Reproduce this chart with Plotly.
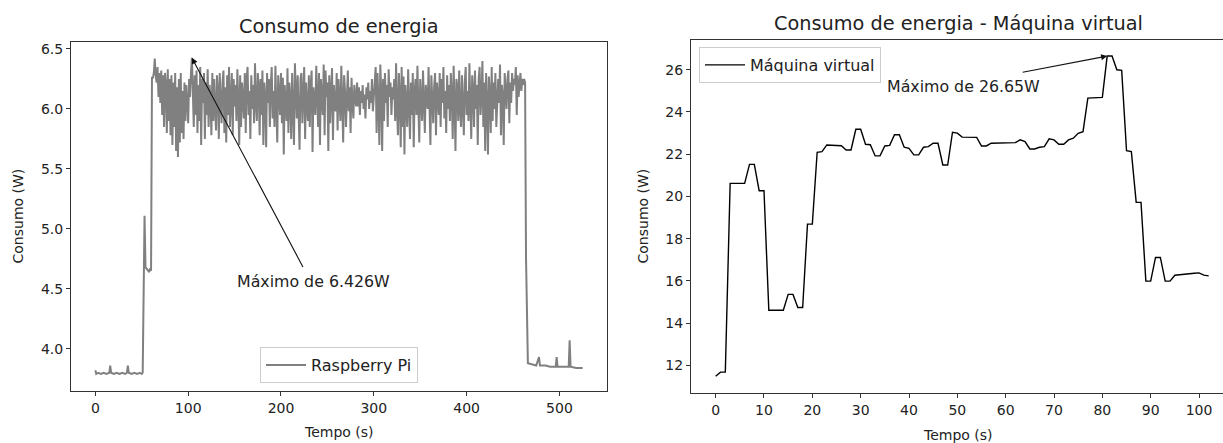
import plotly.graph_objects as go

# ---------------- Data: Raspberry Pi ----------------
rpi_start_t = [0, 1, 3, 6, 9, 12, 15, 16, 17, 20, 23, 26, 29, 32, 34, 35, 36, 39, 42, 45, 48, 50, 51,
               52, 53, 54, 56, 58, 59, 60, 61]
rpi_start_w = [3.82, 3.79, 3.80, 3.79, 3.80, 3.79, 3.80, 3.86, 3.80, 3.79, 3.80, 3.79, 3.80, 3.79, 3.80,
               3.86, 3.80, 3.79, 3.80, 3.79, 3.80, 3.79, 3.80, 4.70, 5.11, 4.68, 4.66, 4.64, 4.67, 4.65, 6.26]

# one reading per second, from t = 62 s to t = 462 s
rpi_load_w = [
    6.26, 6.30, 6.42, 6.28, 6.22, 6.35, 6.10, 6.30, 6.05, 6.32,
    5.95, 6.28, 5.85, 6.30, 6.20, 5.80, 6.33, 5.90, 6.25, 5.78,
    6.28, 5.70, 6.22, 5.85, 6.30, 5.65, 6.18, 5.60, 6.25, 5.72,
    6.30, 5.80, 6.15, 5.75, 6.22, 5.90, 6.20, 6.05, 5.88, 6.25,
    6.10, 6.30, 6.426, 6.15, 5.85, 6.28, 5.95, 6.32, 5.80, 6.20,
    5.90, 6.35, 5.70, 6.25, 6.05, 6.30, 5.75, 6.22, 5.95, 6.33,
    5.85, 6.20, 6.10, 5.78, 6.30, 5.90, 6.25, 6.00, 5.82, 6.28,
    6.15, 5.75, 6.30, 6.05, 5.88, 6.22, 6.32, 5.80, 6.18, 5.72,
    6.28, 5.95, 6.35, 5.85, 6.10, 6.30, 5.78, 6.25, 6.02, 6.20,
    5.90, 6.33, 6.05, 5.70, 6.28, 5.85, 6.22, 6.10, 5.92, 6.30,
    5.80, 6.25, 6.35, 5.95, 6.15, 5.75, 6.28, 6.00, 6.20, 5.88,
    6.38, 6.05, 5.90, 6.30, 6.18, 5.78, 6.25, 5.95, 6.32, 5.70,
    6.22, 6.10, 5.68, 6.30, 6.05, 6.25, 5.85, 6.20, 6.35, 5.92,
    6.15, 5.85, 6.36, 6.00, 5.72, 6.28, 6.12, 5.95, 6.30, 5.88,
    6.26, 5.62, 6.20, 6.05, 5.90, 6.34, 5.80, 6.22, 6.10, 5.75,
    6.30, 6.00, 5.70, 6.38, 6.15, 5.92, 6.28, 6.05, 5.66, 6.25,
    6.30, 5.88, 6.12, 6.35, 5.75, 6.22, 6.02, 5.90, 6.28, 5.85,
    6.20, 6.32, 5.64, 6.18, 6.05, 5.95, 6.36, 6.10, 5.85, 6.30,
    5.70, 6.25, 6.00, 5.95, 6.37, 5.78, 6.32, 6.10, 6.22, 5.65,
    6.28, 5.88, 6.15, 6.34, 5.74, 6.20, 6.02, 5.98, 6.30, 5.82,
    6.25, 6.10, 5.90, 6.36, 6.05, 5.72, 6.28, 6.15, 5.85, 6.22,
    6.32, 5.98, 6.18, 5.80, 6.26, 6.05, 5.92, 6.20, 6.12, 6.02,
    6.22, 6.02, 6.18, 5.95, 6.15, 6.05, 6.20, 6.00, 6.12, 5.92,
    6.18, 6.08, 6.22, 6.00, 6.15, 6.05, 6.25, 5.98, 6.10, 6.20,
    6.35, 5.80, 6.30, 6.05, 5.70, 6.37, 6.15, 5.65, 6.25, 5.90,
    6.30, 6.05, 6.20, 5.85, 6.33, 6.10, 6.22, 5.95, 6.18, 6.08,
    6.25, 5.90, 6.38, 6.00, 5.78, 6.30, 6.12, 5.68, 6.35, 5.85,
    6.27, 5.62, 6.20, 6.05, 5.85, 6.33, 6.10, 5.75, 6.22, 5.95,
    6.30, 5.68, 6.15, 6.25, 5.95, 6.36, 6.02, 5.72, 6.25, 6.10,
    5.90, 6.32, 6.05, 5.80, 6.20, 6.12, 6.00, 6.35, 5.88, 5.70,
    6.28, 6.05, 5.88, 6.18, 6.30, 5.78, 6.22, 6.10, 5.95, 6.30,
    5.85, 6.25, 6.05, 6.35, 5.92, 6.15, 5.80, 6.28, 6.00, 6.20,
    5.90, 6.30, 6.12, 5.75, 6.36, 6.05, 5.65, 6.25, 6.18, 5.90,
    6.32, 6.00, 5.85, 6.28, 6.10, 5.78, 6.22, 6.35, 5.95, 6.15,
    5.90, 6.38, 6.05, 5.75, 6.28, 6.15, 5.85, 6.32, 6.00, 6.20,
    5.70, 6.25, 6.35, 5.95, 6.10, 6.40, 5.85, 6.22, 5.65, 6.30,
    6.05, 5.62, 6.27, 6.12, 5.80, 6.35, 5.90, 6.22, 6.00, 6.30,
    5.85, 6.18, 6.25, 6.05, 6.37, 5.78, 6.20, 6.10, 5.70, 6.30,
    6.15, 6.00, 6.25, 6.32, 5.88, 6.22, 6.05, 6.30, 6.15, 6.25,
    6.20, 6.35, 5.95, 6.28, 6.10, 6.22, 6.30, 6.15, 6.25, 6.20,
    6.25,
]
rpi_load_t = list(range(62, 62 + len(rpi_load_w)))

rpi_end_t = [463, 464, 466, 470, 475, 478, 479, 485, 490, 496, 497, 498, 505, 510, 511, 512, 518, 522, 525]
rpi_end_w = [6.22, 4.76, 3.88, 3.87, 3.86, 3.93, 3.86, 3.86, 3.85, 3.85, 3.93, 3.85, 3.85, 3.85, 4.07, 3.85,
             3.84, 3.84, 3.84]

rpi_t = rpi_start_t + rpi_load_t + rpi_end_t
rpi_w = rpi_start_w + rpi_load_w + rpi_end_w

# ---------------- Data: Máquina virtual ----------------
vm_w = [11.48, 11.68, 11.68, 20.62, 20.62, 20.62, 20.62, 21.52, 21.52, 20.27,
        20.27, 14.61, 14.61, 14.61, 14.61, 15.36, 15.36, 14.74, 14.74, 18.69,
        18.69, 22.09, 22.12, 22.44, 22.43, 22.42, 22.40, 22.20, 22.20, 23.18,
        23.18, 22.47, 22.45, 21.92, 21.92, 22.39, 22.42, 22.92, 22.92, 22.33,
        22.28, 21.97, 21.97, 22.33, 22.36, 22.52, 22.52, 21.49, 21.49, 23.04,
        23.00, 22.81, 22.80, 22.80, 22.80, 22.39, 22.39, 22.52, 22.53, 22.54,
        22.55, 22.55, 22.55, 22.68, 22.60, 22.25, 22.25, 22.33, 22.36, 22.73,
        22.68, 22.47, 22.47, 22.68, 22.76, 22.99, 23.07, 24.66, 24.67, 24.68,
        24.69, 26.65, 26.65, 26.00, 25.97, 22.17, 22.12, 19.72, 19.72, 15.99,
        15.99, 17.11, 17.11, 15.99, 15.99, 16.27, 16.30, 16.32, 16.34, 16.36,
        16.38, 16.27, 16.24]
vm_t = list(range(len(vm_w)))

left_xticks = [0, 100, 200, 300, 400, 500]
left_yticks = [4.0, 4.5, 5.0, 5.5, 6.0, 6.5]
right_xticks = [0, 10, 20, 30, 40, 50, 60, 70, 80, 90, 100]
right_yticks = [12, 14, 16, 18, 20, 22, 24, 26]

rpi_max_t, rpi_max_w = 104, 6.426
vm_max_t, vm_max_w = 81, 26.65

W, H = 1223, 443
FONT = "DejaVu Sans"
TXT = "#222222"

fig = go.Figure()
fig.add_trace(go.Scatter(x=rpi_t, y=rpi_w, mode="lines", name="Raspberry Pi",
                         line=dict(color="#808080", width=2), xaxis="x", yaxis="y",
                         legend="legend"))
fig.add_trace(go.Scatter(x=vm_t, y=vm_w, mode="lines", name="Máquina virtual",
                         line=dict(color="#000000", width=1.4), xaxis="x2", yaxis="y2",
                         legend="legend2"))


def px(v):
    return v / W


def py(v):
    return 1 - v / H


axis_common = dict(showgrid=False, zeroline=False, showline=True, linecolor="#333333", linewidth=1,
                   ticks="outside", ticklen=4, tickcolor="#333333", tickwidth=1,
                   tickfont=dict(family=FONT, size=14, color=TXT))

legend_common = dict(bgcolor="rgba(255,255,255,0.8)", bordercolor="#cccccc", borderwidth=1,
                     font=dict(family=FONT, size=16, color=TXT), itemwidth=40)

fig.update_layout(
    width=W, height=H,
    margin=dict(l=0, r=0, t=0, b=0),
    paper_bgcolor="white", plot_bgcolor="white",
    font=dict(family=FONT, color=TXT),
    xaxis=dict(domain=[px(71), px(607)], range=[-26.25, 551.25], tickvals=left_xticks,
               mirror=True, anchor="y", **axis_common),
    yaxis=dict(domain=[1 - 391 / H, 1 - 42 / H], range=[3.648, 6.558], tickvals=left_yticks,
               tickformat=".1f", mirror=True, anchor="x", **axis_common),
    xaxis2=dict(domain=[px(691), 1.0], range=[-5.1, 104.96], tickvals=right_xticks,
                mirror=True, anchor="y2", **axis_common),
    yaxis2=dict(domain=[1 - 393 / H, 1 - 40 / H], range=[10.69, 27.41], tickvals=right_yticks,
                mirror=False, anchor="x2", **axis_common),
    legend=dict(x=px(339), y=py(383), xanchor="center", yanchor="bottom", **legend_common),
    legend2=dict(x=px(699), y=py(47), xanchor="left", yanchor="top", **legend_common),
    showlegend=True,
)

ann = []
# titles
ann.append(dict(text="Consumo de energia", x=px(339), y=py(27), xref="paper", yref="paper",
                showarrow=False, xanchor="center", yanchor="middle",
                font=dict(family=FONT, size=19.3, color=TXT)))
ann.append(dict(text="Consumo de energia - Máquina virtual", x=px(958), y=py(23), xref="paper",
                yref="paper", showarrow=False, xanchor="center", yanchor="middle",
                font=dict(family=FONT, size=19.3, color=TXT)))
# axis titles
for xc, yc in [(339, 432), (958, 435)]:
    ann.append(dict(text="Tempo (s)", x=px(xc), y=py(yc), xref="paper", yref="paper",
                    showarrow=False, xanchor="center", yanchor="middle",
                    font=dict(family=FONT, size=14, color=TXT)))
for xc in [18, 643]:
    ann.append(dict(text="Consumo (W)", x=px(xc), y=py(216.5), xref="paper", yref="paper",
                    showarrow=False, xanchor="center", yanchor="middle", textangle=-90,
                    font=dict(family=FONT, size=14, color=TXT)))
# max annotations: text
ann.append(dict(text="Máximo de 6.426W", x=150, y=4.562, xref="x", yref="y", showarrow=False,
                xanchor="left", yanchor="middle", font=dict(family=FONT, size=15.8, color=TXT)))
ann.append(dict(text="Máximo de 26.65W", x=35, y=25.21, xref="x2", yref="y2", showarrow=False,
                xanchor="left", yanchor="middle", font=dict(family=FONT, size=15.8, color=TXT)))
# arrows
ann.append(dict(text="", x=rpi_max_t, y=rpi_max_w, xref="x", yref="y", ax=224.5, ay=4.67,
                axref="x", ayref="y", showarrow=True, arrowhead=2, arrowsize=1.1, arrowwidth=1.1,
                arrowcolor="#111111", standoff=0, startstandoff=0))
ann.append(dict(text="", x=vm_max_t, y=vm_max_w, xref="x2", yref="y2", ax=63.2, ay=25.87,
                axref="x2", ayref="y2", showarrow=True, arrowhead=2, arrowsize=1.1, arrowwidth=1.1,
                arrowcolor="#111111", standoff=0, startstandoff=0))
fig.update_layout(annotations=ann)

fig.write_html("out.html", config={"displayModeBar": False},
               post_script="document.body.style.margin='0';document.body.style.overflow='hidden';")
